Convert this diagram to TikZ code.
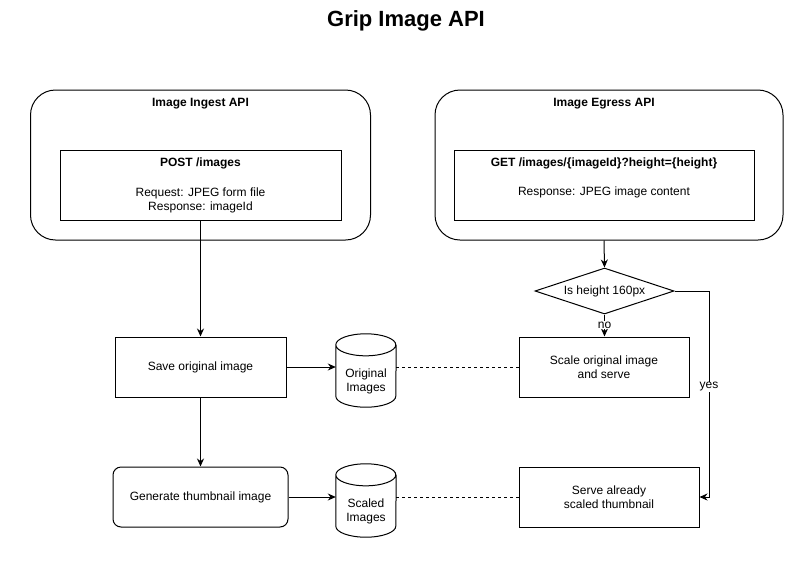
\documentclass[tikz,border=0pt]{standalone}
\usepackage{fontspec}
\setmainfont{Liberation Sans}
\usetikzlibrary{shapes.geometric,arrows.meta,calc}
\begin{document}
\begin{tikzpicture}[x=1pt,y=-1pt,
  every node/.style={font=\fontsize{12}{14}\selectfont, inner sep=0pt},
  box/.style={draw, line width=1pt, rectangle},
  container/.style={draw, line width=1pt, rectangle, rounded corners=25pt},
  arr/.style={line width=1pt, -{Stealth[length=8pt,width=7pt]}},
  dashline/.style={line width=1pt, dash pattern=on 3pt off 3pt},
  lbl/.style={fill=white, inner sep=1pt}
]
\useasboundingbox (0,0) rectangle (812,582);
\fill[white] (0,0) rectangle (812,582);

\node[font=\fontsize{22}{26}\selectfont\bfseries] (title) at (406,21) {Grip Image API};

% containers
\node[container, minimum width=340pt, minimum height=150pt] (ingest) at (200.5,165) {};
\node[font=\fontsize{12}{14}\selectfont\bfseries] (ingestT) at (200.5,104) {Image Ingest API};
\node[box, minimum width=281pt, minimum height=70pt, align=center] (post) at (200.5,185)
  {\textbf{POST /images}\\[16pt]Request: JPEG form file\\Response: imageId};

\node[container, minimum width=348pt, minimum height=150pt] (egress) at (609,165) {};
\node[font=\fontsize{12}{14}\selectfont\bfseries] (egressT) at (604,104) {Image Egress API};
\node[box, minimum width=300pt, minimum height=70pt] (get) at (604,185) {};
\node[align=center] (getT) at (604,177.5) {\textbf{GET /images/\{imageId\}?height=\{height\}}\\[15pt]Response: JPEG image content};

% decision
\node[draw, line width=1pt, diamond, aspect=3, minimum width=139pt, minimum height=46pt] (dia) at (604.5,291) {Is height 160px};

% process boxes
\node[box, minimum width=171pt, minimum height=60pt] (save) at (200.5,367) {Save original image};
\node[box, rounded corners=8pt, minimum width=175pt, minimum height=60pt] (gen) at (200.5,497) {Generate thumbnail image};
\node[box, minimum width=170pt, minimum height=60pt, align=center] (scale) at (604,367) {Scale original image\\and serve};
\node[box, minimum width=180pt, minimum height=60pt, align=center] (serve) at (609,497) {Serve already\\scaled thumbnail};

% cylinders
\node[minimum width=60pt, minimum height=73pt] (orig) at (366,370.5) {};
\draw[line width=1pt] ($(orig.north west)+(0,11)$) arc[x radius=30, y radius=11, start angle=180, end angle=0]
  arc[x radius=30, y radius=11, start angle=0, end angle=-180]
  -- ($(orig.south west)+(0,-11)$)
  arc[x radius=30, y radius=11, start angle=180, end angle=0] -- ($(orig.north east)+(0,11)$);
\node[align=center] (origT) at (366,381) {Original\\Images};

\node[minimum width=60pt, minimum height=73pt] (scaled) at (366,500.5) {};
\draw[line width=1pt] ($(scaled.north west)+(0,11)$) arc[x radius=30, y radius=11, start angle=180, end angle=0]
  arc[x radius=30, y radius=11, start angle=0, end angle=-180]
  -- ($(scaled.south west)+(0,-11)$)
  arc[x radius=30, y radius=11, start angle=180, end angle=0] -- ($(scaled.north east)+(0,11)$);
\node[align=center] (scaledT) at (366,511) {Scaled\\Images};

% connectors
\draw[arr] (post.south) -- (save.north);
\draw[arr] (save.south) -- (gen.north);
\draw[arr] (save.east) -- (save.east -| orig.west);
\draw[arr] (gen.east) -- (gen.east -| scaled.west);
\draw[dashline] (save.east -| orig.east) -- (scale.west);
\draw[dashline] (gen.east -| scaled.east) -- (gen.east -| serve.west);
\draw[arr] (get.south |- egress.south) -- (dia.north);
\draw[arr] (dia.south) -- (dia.south |- scale.north);
\node[lbl] (no) at (604.5,325) {no};
\coordinate (yesc) at (709,291);
\draw[arr] (dia.east) -- (yesc) |- (serve.east);
\node[lbl] (yes) at (709,387) {yes};
\end{tikzpicture}
\end{document}
